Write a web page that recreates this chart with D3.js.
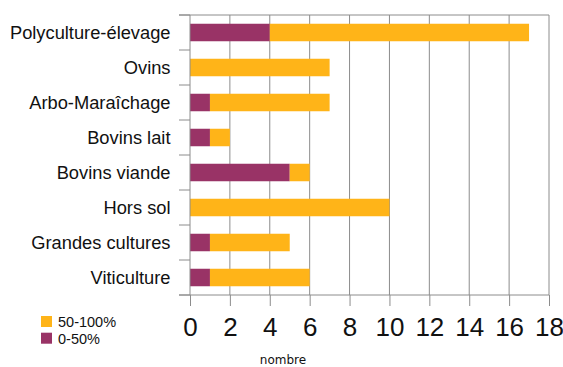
<!DOCTYPE html>
<html>
<head>
<meta charset="utf-8">
<script src="https://cdn.jsdelivr.net/npm/d3@7/dist/d3.min.js"></script>
<style>
  html, body { margin: 0; padding: 0; background: #fff; }
  svg { display: block; }
</style>
</head>
<body>
<svg id="chart" width="563" height="367"></svg>
<script>
// Exploitations by production type, split by share band
const categories = ["Polyculture-élevage", "Ovins", "Arbo-Maraîchage", "Bovins lait",
                    "Bovins viande", "Hors sol", "Grandes cultures", "Viticulture"];
const low  = [4, 0, 1, 1, 5, 0, 1, 1];   // 0-50%
const high = [13, 7, 6, 1, 1, 10, 4, 5]; // 50-100%
const seriesNames = ["0-50%", "50-100%"];
const xTicks = [0, 2, 4, 6, 8, 10, 12, 14, 16, 18];
const axisTitle = "nombre";

const colors = { "0-50%": "#993366", "50-100%": "#ffb418" };
const gridColor = "#8c8c8c";

const svg = d3.select("#chart");
const plotLeft = 190, plotRight = 549, plotTop = 15, plotBottom = 295;

const x = d3.scaleLinear().domain([0, 18]).range([plotLeft, plotRight]);
const y = d3.scaleBand().domain(categories).range([plotTop, plotBottom])
  .paddingInner(0.5).paddingOuter(0.25);

const rows = categories.map((c, i) => ({ cat: c, "0-50%": low[i], "50-100%": high[i] }));
const stacked = d3.stack().keys(seriesNames)(rows);

// vertical gridlines + right frame
svg.append("g").selectAll("line").data(xTicks.filter(v => v > 0)).join("line")
  .attr("x1", d => x(d)).attr("x2", d => x(d))
  .attr("y1", plotTop).attr("y2", plotBottom)
  .attr("stroke", gridColor).attr("stroke-width", 1);

// top frame
svg.append("line").attr("x1", plotLeft - 11).attr("x2", plotRight)
  .attr("y1", plotTop).attr("y2", plotTop)
  .attr("stroke", gridColor);

// bars
svg.append("g").selectAll("g").data(stacked).join("g")
  .attr("fill", s => colors[s.key])
  .selectAll("rect").data(s => s).join("rect")
  .attr("x", d => x(d[0]))
  .attr("width", d => x(d[1]) - x(d[0]))
  .attr("y", d => y(d.data.cat))
  .attr("height", y.bandwidth());

// category boundary ticks on the left axis
const boundaries = categories.map(c => y(c) - y.step() * 0.25).concat([plotBottom]);
svg.append("g").selectAll("line").data(boundaries).join("line")
  .attr("x1", plotLeft - 11).attr("x2", plotLeft)
  .attr("y1", d => d).attr("y2", d => d)
  .attr("stroke", gridColor);

// left axis (labels only) and axis line
const yAxis = svg.append("g").attr("transform", `translate(${plotLeft},0)`)
  .call(d3.axisLeft(y).tickSize(0).tickPadding(19.5));
yAxis.select(".domain").remove();
yAxis.selectAll("text")
  .attr("font-family", "'Liberation Sans', Arial, sans-serif")
  .attr("font-size", 18.3).attr("fill", "#111")
  .attr("dy", "0.36em");
svg.append("line").attr("x1", plotLeft).attr("x2", plotLeft)
  .attr("y1", plotTop).attr("y2", plotBottom).attr("stroke", gridColor);

// bottom axis
const xAxis = svg.append("g").attr("transform", `translate(0,${plotBottom})`)
  .call(d3.axisBottom(x).tickValues(xTicks).tickSize(11).tickSizeOuter(0).tickPadding(12));
xAxis.select(".domain").remove();
xAxis.selectAll(".tick line").attr("stroke", gridColor);
xAxis.selectAll("text")
  .attr("font-family", "'Liberation Sans', Arial, sans-serif")
  .attr("font-size", 26).attr("fill", "#111");
svg.append("line").attr("x1", plotLeft - 11).attr("x2", plotRight)
  .attr("y1", plotBottom).attr("y2", plotBottom).attr("stroke", gridColor);

// axis title
svg.append("text").attr("x", 283).attr("y", 363.5)
  .attr("text-anchor", "middle")
  .attr("font-family", "'DejaVu Sans', sans-serif")
  .attr("font-size", 12).attr("fill", "#111")
  .text(axisTitle);

// legend
const legendItems = ["50-100%", "0-50%"];
const lg = svg.append("g").selectAll("g").data(legendItems).join("g")
  .attr("transform", (d, i) => `translate(41,${316 + i * 16.7})`);
lg.append("rect").attr("width", 11).attr("height", 11).attr("fill", d => colors[d]);
lg.append("text").attr("x", 17).attr("y", 11)
  .attr("font-family", "'Liberation Sans', Arial, sans-serif")
  .attr("font-size", 14.5).attr("fill", "#111")
  .text(d => d);
</script>
</body>
</html>
